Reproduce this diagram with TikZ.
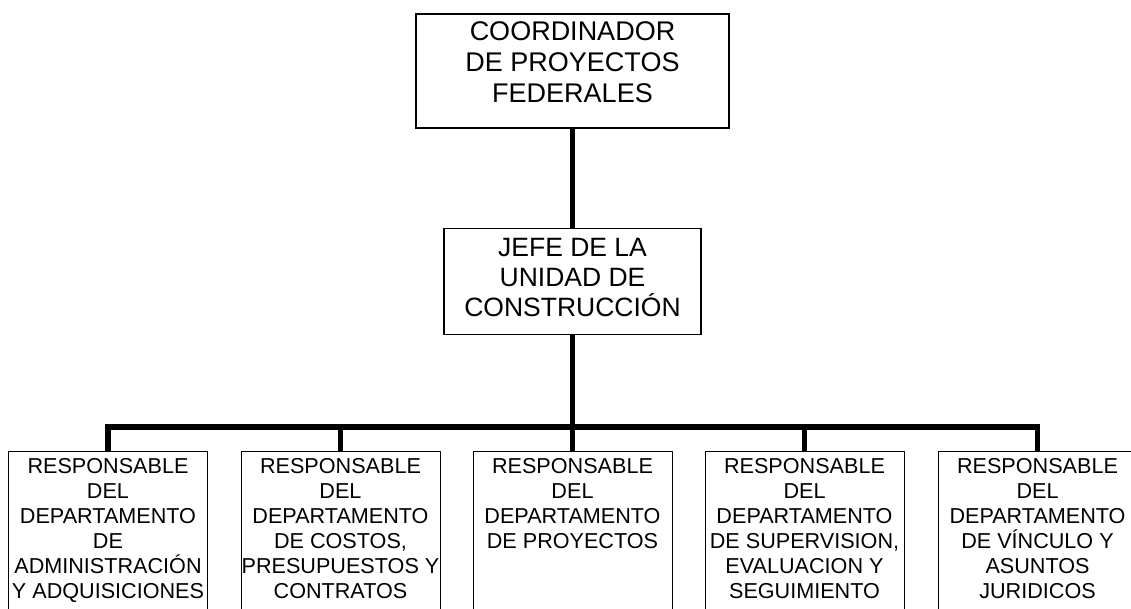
\documentclass[tikz,border=0pt]{standalone}
\usepackage{fontspec}
\setmainfont{Liberation Sans}
\tikzset{
  orgbox/.style={draw=black, inner sep=0pt, anchor=north, fill=white},
  topbox/.style={orgbox, line width=1.5pt},
  midbox/.style={orgbox, line width=1.2pt},
  depbox/.style={orgbox, line width=1pt},
  conn/.style={draw=black, line width=5.8pt, line join=miter}
}
\newcommand\toptext[1]{\parbox[c][114pt][t]{313pt}{\centering\fontsize{27pt}{31pt}\selectfont\rule{0pt}{26.3pt}#1}}
\newcommand\midtext[1]{\parbox[c][106pt][t]{257pt}{\centering\fontsize{26.5pt}{30pt}\selectfont\rule{0pt}{28pt}#1}}
\newcommand\deptext[1]{\parbox[c][175pt][t]{199pt}{\centering\fontsize{21.6pt}{25pt}\selectfont\rule{0pt}{21.5pt}#1}}
\begin{document}
\begin{tikzpicture}[x=1pt,y=-1pt]
\useasboundingbox (0,0) rectangle (1131,608);
\clip (0,0) rectangle (1131,608);
\fill[white] (0,0) rectangle (1131,608);

\node[topbox] (coord) at (572.5,13) {\toptext{COORDINADOR\\DE~PROYECTOS\\FEDERALES}};
\node[midbox] (jefe) at (572.5,228) {\midtext{JEFE~DE~LA\\UNIDAD~DE\\CONSTRUCCIÓN}};

\node[depbox] (d1) at (108,451) {\deptext{RESPONSABLE\\DEL\\DEPARTAMENTO\\DE\\ADMINISTRACIÓN\\Y~ADQUISICIONES}};
\node[depbox] (d2) at (340.5,451) {\deptext{RESPONSABLE\\DEL\\DEPARTAMENTO\\DE~COSTOS,\\PRESUPUESTOS~Y\\CONTRATOS}};
\node[depbox] (d3) at (572.5,451) {\deptext{RESPONSABLE\\DEL\\DEPARTAMENTO\\DE~PROYECTOS}};
\node[depbox] (d4) at (804.5,451) {\deptext{RESPONSABLE\\DEL\\DEPARTAMENTO\\DE~SUPERVISION,\\EVALUACION~Y\\SEGUIMIENTO}};
\node[depbox] (d5) at (1037.5,451) {\deptext{RESPONSABLE\\DEL\\DEPARTAMENTO\\DE~VÍNCULO~Y\\ASUNTOS\\JURIDICOS}};

\coordinate (bus) at (572.5,427);
\draw[conn] (coord.south) -- (jefe.north);
\draw[conn] (jefe.south) -- (d3.north);
\draw[conn] (d1.north) |- (bus) -| (d5.north);
\draw[conn] (d2.north) -- (d2.north |- bus);
\draw[conn] (d4.north) -- (d4.north |- bus);
\end{tikzpicture}
\end{document}
